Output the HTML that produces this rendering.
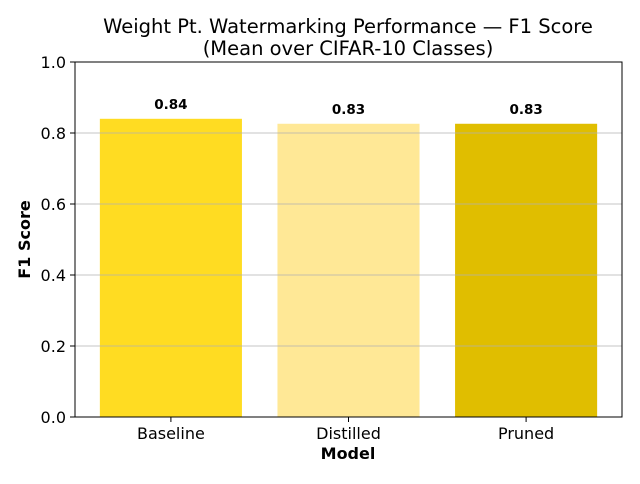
<!DOCTYPE html>
<html><head><meta charset="utf-8"><style>
body{margin:0;background:#fff;font-family:"DejaVu Sans","Liberation Sans",sans-serif;}
</style></head><body>
<svg width="640" height="480" viewBox="0 0 640 480" xmlns="http://www.w3.org/2000/svg">
<rect width="640" height="480" fill="#fff"/>
<text x="348" y="33" text-anchor="middle" font-size="19.5">Weight Pt. Watermarking Performance — F1 Score</text>
<text x="348" y="55" text-anchor="middle" font-size="19.5">(Mean over CIFAR-10 Classes)</text>
<g id="bars"></g>
<g id="grid"></g>
<rect x="75" y="62" width="547" height="355" fill="none" stroke="#000" stroke-width="1"/>
<g id="axes"></g>
<text x="348" y="459" text-anchor="middle" font-size="16" font-weight="bold">Model</text>
<text transform="translate(30,239.5) rotate(-90)" text-anchor="middle" font-size="16" font-weight="bold">F1 Score</text>
</svg>
<script>
const categories=["Baseline","Distilled","Pruned"];
const values=[0.84,0.826,0.826];
const labels=["0.84","0.83","0.83"];
const colors=["#FFDC22","#FFE896","#E0BE00"];
const yTicks=[0,0.2,0.4,0.6,0.8,1.0];
const L=75,R=622,T=62,B=417,xmin=-0.54,xmax=2.54;
const xs=v=>L+(v-xmin)/(xmax-xmin)*(R-L);
const ys=v=>B-v*(B-T);
const NS="http://www.w3.org/2000/svg";
function mk(t,a,p){const e=document.createElementNS(NS,t);for(const k in a)e.setAttribute(k,a[k]);p.appendChild(e);return e;}
const grid=document.getElementById('grid'),bars=document.getElementById('bars'),axes=document.getElementById('axes');
yTicks.forEach(v=>{
 const y=ys(v);
 if(v>0&&v<1){const g=mk('line',{x1:L,x2:R,y1:y,y2:y,stroke:'#b0b0b0','stroke-width':0.8},grid);
 
 }
 mk('line',{x1:L-5,x2:L,y1:y,y2:y,stroke:'#000'},axes);
 const t=mk('text',{x:L-9,y:y+6,'text-anchor':'end','font-size':16},axes);t.textContent=v.toFixed(1);
 
 
});
categories.forEach((c,i)=>{
 const x0=xs(i-0.4),x1=xs(i+0.4),y=ys(values[i]);
 const r=mk('rect',{x:x0,y:y,width:x1-x0,height:B-y,fill:colors[i]},bars);
 
 
 const vl=mk('text',{x:xs(i),y:y-10,'text-anchor':'middle','font-size':13.5,'font-weight':'bold'},bars);vl.textContent=labels[i];
 
 
 mk('line',{x1:xs(i),x2:xs(i),y1:B,y2:B+5,stroke:'#000'},axes);
 const t=mk('text',{x:xs(i),y:B+22,'text-anchor':'middle','font-size':16},axes);t.textContent=c;
 
 
});
</script>
</body></html>
